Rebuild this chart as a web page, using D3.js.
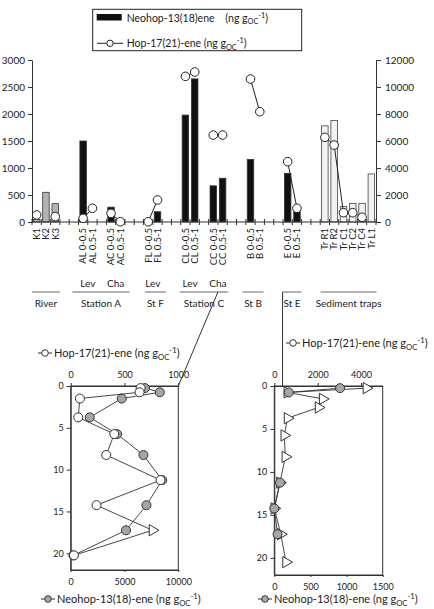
<!DOCTYPE html>
<html>
<head>
<meta charset="utf-8">
<script src="https://cdn.jsdelivr.net/npm/d3@7/dist/d3.min.js"></script>
<style>
body { margin: 0; background: #fff; }
svg { font-family: Lato, "Open Sans", sans-serif; }
.tick text { font-family: Lato, "Open Sans", sans-serif; fill: #222; }
</style>
</head>
<body>
<script>
// top panel: one slot per sample, "" = spacer slot
var samples = ["K1","K2","K3","","","AL 0-0.5","AL 0.5-1","","AC 0-0.5","AC 0.5-1","","",
  "FL 0-0.5","FL 0.5-1","","","CL 0-0.5","CL 0.5-1","","CC 0-0.5","CC 0.5-1","","",
  "B 0-0.5","B 0.5-1","","","E 0-0.5","E 0.5-1","","","Tr R1","Tr R2","Tr C1","Tr C2","Tr C4","Tr L1"];
var neohop = [50,550,340,null,null,1500,0,null,275,0,null,null,0,190,null,null,1980,2650,null,670,810,null,null,
  1160,0,null,null,900,190,null,null,1780,1880,285,345,345,890];
var hop = [520,null,400,null,null,270,1015,null,640,20,null,null,20,1630,null,null,10790,11110,null,6440,6440,null,null,
  10590,8170,null,null,4470,1015,null,null,6270,5700,690,690,350,null];
var leftTicks = [0,500,1000,1500,2000,2500,3000];
var rightTicks = [0,2000,4000,6000,8000,10000,12000];

// station brackets under the axis (slot units)
var groupNames = ["River","Station A","St F","Station C","St B","St E","Sediment traps"];
var groupFrom = [0,4.35,12.15,15.9,22.65,26.95,31.05];
var groupTo = [3,10.5,14.4,21.1,24.9,29,37.05];
var subNames = ["Lev","Cha","Lev","Lev","Cha"];
var subAt = [6,9,13,17,20];

// core from station C (left inset)
var depthC = [0.25,0.75,1.5,3.75,5.75,8.25,11.25,14.25,17.25,20.25];
var hopC = [650,640,85,70,405,330,835,240,760,30];
var neoC = [6900,8280,4740,1770,4310,6760,8500,7040,5140,250];
var hopCShape = ["o","o","o","o","o","o","o","o","t","o"];

// core from station E (right inset)
var depthE = [0.25,0.75,1.5,2.5,3.75,5.75,8.25,11.25,14.25,17.25,20.5];
var hopE = [4250,600,2230,2040,610,460,510,260,0,300,540];
var neoE = [910,200,null,null,null,null,null,80,0,45,null];

var W = 434, H = 609;
var svg = d3.select("body").append("svg").attr("width", W).attr("height", H);
var fmt = d3.format("d");

var x = d3.scaleBand().domain(d3.range(samples.length)).range([32,376]).paddingInner(0.3).paddingOuter(0.15);
var slot = d3.scaleLinear().domain([0,samples.length]).range([32,376]);
var yL = d3.scaleLinear().domain([0,3000]).range([222,60]);
var yR = d3.scaleLinear().domain([0,12000]).range([222,60]);

function styleAxis(g, size){
  g.select(".domain").attr("stroke","#333");
  g.selectAll(".tick line").attr("stroke","#333");
  g.selectAll(".tick text").attr("font-size", size);
}

svg.append("g").attr("transform","translate(32,0)")
  .call(d3.axisLeft(yL).tickValues(leftTicks).tickFormat(fmt).tickSize(4).tickSizeOuter(0).tickPadding(3))
  .call(styleAxis, 10);
svg.append("g").attr("transform","translate(376,0)")
  .call(d3.axisRight(yR).tickValues(rightTicks).tickFormat(fmt).tickSize(5).tickSizeOuter(0).tickPadding(4))
  .call(styleAxis, 10);

// bars
function barFill(name){ return name[0] === "K" ? "#b3b3b3" : name.indexOf("Tr") === 0 ? "#f2f2f2" : "#111"; }
svg.append("g").selectAll("rect").data(samples).enter()
  .filter(function(d,i){ return neohop[i] > 0; })
  .append("rect")
  .attr("x", function(d){ return x(samples.indexOf(d)); })
  .attr("width", x.bandwidth())
  .attr("y", function(d){ var i = samples.indexOf(d); return yL(neohop[i]); })
  .attr("height", function(d){ var i = samples.indexOf(d); return yL(0) - yL(neohop[i]); })
  .attr("fill", function(d){ return barFill(d); })
  .attr("stroke", function(d){ return d.indexOf("Tr") === 0 ? "#444" : "#333"; })
  .attr("stroke-width", 0.8);

// x axis
svg.append("line").attr("x1",32).attr("x2",376).attr("y1",yL(0)).attr("y2",yL(0)).attr("stroke","#333");
svg.append("g").selectAll("line").data(d3.range(samples.length + 1)).enter().append("line")
  .attr("x1", function(d){ return slot(d); }).attr("x2", function(d){ return slot(d); })
  .attr("y1", yL(0) - 3).attr("y2", yL(0) + 3).attr("stroke","#333");
svg.append("g").selectAll("text").data(samples).enter().append("text")
  .attr("transform", function(d,i){ return "translate(" + (x(i) + x.bandwidth()/2) + "," + (yL(0) + 6) + ") rotate(-90)"; })
  .attr("dy","0.35em").attr("text-anchor","end").attr("font-size",9.5).attr("fill","#222")
  .text(function(d){ return d; });

// hop line + circles
var hopPts = hop.map(function(v,i){ return {i:i, v:v}; });
svg.append("path").datum(hopPts)
  .attr("d", d3.line().defined(function(d){ return d.v != null; })
    .x(function(d){ return x(d.i) + x.bandwidth()/2; }).y(function(d){ return yR(d.v); }))
  .attr("fill","none").attr("stroke","#222").attr("stroke-width",1);
svg.append("g").selectAll("circle").data(hopPts.filter(function(d){ return d.v != null; })).enter().append("circle")
  .attr("cx", function(d){ return x(d.i) + x.bandwidth()/2; }).attr("cy", function(d){ return yR(d.v); })
  .attr("r",4.3).attr("fill","#fff").attr("stroke","#222").attr("stroke-width",1);

// group labels
svg.append("g").selectAll("text").data(subNames).enter().append("text")
  .attr("x", function(d,i){ return slot(subAt[i]); }).attr("y",287)
  .attr("text-anchor","middle").attr("font-size",10).attr("fill","#222").text(function(d){ return d; });
var gl = svg.append("g");
groupNames.forEach(function(n,i){
  gl.append("line").attr("x1",slot(groupFrom[i])).attr("x2",slot(groupTo[i])).attr("y1",292).attr("y2",292)
    .attr("stroke","#666").attr("stroke-width",1);
  gl.append("text").attr("x",(slot(groupFrom[i]) + slot(groupTo[i]))/2).attr("y",307)
    .attr("text-anchor","middle").attr("font-size",10).attr("fill","#222").text(n);
});

// unit text with sub/superscript
function unitText(t, label, size){
  t.attr("font-size",size).attr("fill","#222").style("white-space","pre");
  t.append("tspan").text(label + "(ng g");
  t.append("tspan").attr("font-size",size*0.7).attr("dy",size*0.25).text("OC");
  t.append("tspan").attr("font-size",size*0.7).attr("dy",-size*0.6).text("-1");
  t.append("tspan").attr("dy",size*0.35).text(")");
}

// legend
svg.append("rect").attr("x",92.7).attr("y",9.3).attr("width",209).attr("height",41.4)
  .attr("fill","#fff").attr("stroke","#222").attr("stroke-width",1);
svg.append("rect").attr("x",96.7).attr("y",14).attr("width",25).attr("height",6.5).attr("fill","#111");
unitText(svg.append("text").attr("x",126.7).attr("y",21.5), "Neohop-13(18)ene    ", 10.5);
svg.append("line").attr("x1",97).attr("x2",123).attr("y1",43.3).attr("y2",43.3).attr("stroke","#222");
svg.append("circle").attr("cx",110).attr("cy",43.3).attr("r",3.2).attr("fill","#fff").attr("stroke","#222");
unitText(svg.append("text").attr("x",126.7).attr("y",47), "Hop-17(21)-ene ", 10.5);

// insets
function inset(o){
  var xt = d3.scaleLinear().domain([0,o.topMax]).range([o.x0,o.x1]);
  var xb = d3.scaleLinear().domain([0,o.botMax]).range([o.x0,o.x1]);
  var y = d3.scaleLinear().domain([0,22]).range([386,o.y1]);
  var g = svg.append("g");
  g.append("rect").attr("x",o.x0).attr("y",386).attr("width",o.x1-o.x0).attr("height",o.y1-386)
    .attr("fill","none").attr("stroke","#333");
  g.append("g").attr("transform","translate(" + o.x0 + ",0)")
    .call(d3.axisLeft(y).tickValues([0,5,10,15,20]).tickFormat(fmt).tickSize(4).tickSizeOuter(0).tickPadding(3)).call(styleAxis, 9);
  g.append("g").attr("transform","translate(0,386)")
    .call(d3.axisTop(xt).tickValues(o.topTicks).tickFormat(fmt).tickSize(3).tickSizeOuter(0).tickPadding(5)).call(styleAxis, 9);
  g.append("g").attr("transform","translate(0," + o.y1 + ")")
    .call(d3.axisBottom(xb).tickValues(o.botTicks).tickFormat(fmt).tickSize(2).tickSizeOuter(0).tickPadding(7)).call(styleAxis, 9);

  var tri = d3.symbol().type(d3.symbolTriangle).size(55);
  function drawSeries(vals, scale, fill, shapes){
    var pts = vals.map(function(v,i){ return {v:v, d:o.depth[i], s:shapes ? shapes[i] : "o"}; });
    g.append("path").datum(pts)
      .attr("d", d3.line().defined(function(p){ return p.v != null; })
        .x(function(p){ return scale(p.v); }).y(function(p){ return y(p.d); }))
      .attr("fill","none").attr("stroke","#333").attr("stroke-width",0.9);
    pts.filter(function(p){ return p.v != null; }).forEach(function(p){
      if (p.s === "t") {
        g.append("path").attr("d",tri())
          .attr("transform","translate(" + scale(p.v) + "," + y(p.d) + ") rotate(90)")
          .attr("fill","#fff").attr("stroke","#333");
      } else {
        g.append("circle").attr("cx",scale(p.v)).attr("cy",y(p.d)).attr("r",4.5)
          .attr("fill",fill).attr("stroke","#333");
      }
    });
  }
  o.draw(drawSeries, xt, xb);

  function titleMarker(cx, cy, fill){
    g.append("line").attr("x1",cx-7).attr("x2",cx+7).attr("y1",cy).attr("y2",cy).attr("stroke","#333");
    g.append("circle").attr("cx",cx).attr("cy",cy).attr("r",3.3).attr("fill",fill).attr("stroke","#333");
  }
  titleMarker(o.tTop[0], o.tTop[1], "#fff");
  unitText(g.append("text").attr("x",o.tTop[0]+9).attr("y",o.tTop[1]+4), "Hop-17(21)-ene ", 11);
  titleMarker(o.tBot[0], o.tBot[1], "#aaa");
  unitText(g.append("text").attr("x",o.tBot[0]+9).attr("y",o.tBot[1]+4), "Neohop-13(18)-ene ", 11);
  return {xt:xt, y:y};
}

var insC = inset({x0:70.7, x1:178.3, y1:570, topMax:1000, botMax:10000,
  topTicks:[0,500,1000], botTicks:[0,5000,10000], depth:depthC,
  tTop:[45,353], tBot:[48,599],
  draw:function(series, xt, xb){
    series(neoC, xb, "#a6a6a6");
    series(hopC, xt, "#fff", hopCShape);
  }});
var insE = inset({x0:274.3, x1:382.7, y1:575, topMax:5000, botMax:1500,
  topTicks:[0,2000,4000], botTicks:[0,500,1000,1500], depth:depthE,
  tTop:[293,343], tBot:[265,599],
  draw:function(series, xt, xb){
    series(hopE, xt, "#fff", hopE.map(function(){ return "t"; }));
    series(neoE, xb, "#a6a6a6");
  }});

// connectors from the station brackets to the cores
svg.append("line").attr("x1",slot(20)).attr("y1",292).attr("x2",178.3).attr("y2",386).attr("stroke","#333");
svg.append("line").attr("x1",slot(groupFrom[5])).attr("y1",292).attr("x2",slot(groupFrom[5])).attr("y2",386).attr("stroke","#333");
</script>
</body>
</html>
